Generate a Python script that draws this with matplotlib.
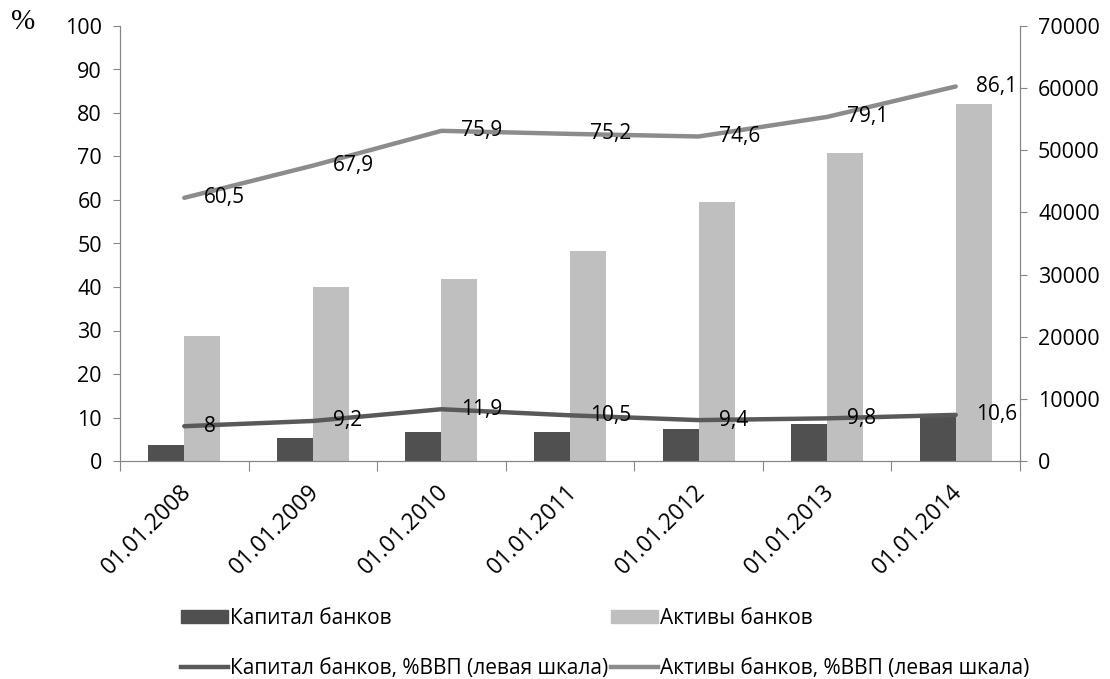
import numpy as np
import matplotlib.pyplot as plt
from matplotlib.lines import Line2D
from matplotlib.patches import Patch

# data
dates = ['01.01.2008', '01.01.2009', '01.01.2010', '01.01.2011',
         '01.01.2012', '01.01.2013', '01.01.2014']
capital = [2600, 3700, 4650, 4650, 5200, 6000, 7100]          # right scale
assets = [20100, 28000, 29300, 33800, 41700, 49600, 57400]    # right scale
capital_gdp = [8, 9.2, 11.9, 10.5, 9.4, 9.8, 10.6]            # left scale, %
assets_gdp = [60.5, 67.9, 75.9, 75.2, 74.6, 79.1, 86.1]        # left scale, %

cap_labels = ['8', '9,2', '11,9', '10,5', '9,4', '9,8', '10,6']
ast_labels = ['60,5', '67,9', '75,9', '75,2', '74,6', '79,1', '86,1']

FONT = ['Open Sans', 'DejaVu Sans']
plt.rcParams['font.family'] = FONT
spine_col = '#868686'
dark_bar = '#505050'
light_bar = '#bfbfbf'
dark_line = '#595959'
light_line = '#8c8c8c'

fig = plt.figure(figsize=(11.1, 6.79), dpi=100)
ax = fig.add_axes([120 / 1110, 1 - 461 / 679, 900 / 1110, 435 / 679])
ax2 = ax.twinx()
ax.set_zorder(ax2.get_zorder() + 1)
ax.patch.set_visible(False)

x = np.arange(len(dates))
w = 0.28
ax2.bar(x - w / 2, capital, w, color=dark_bar, label='Капитал банков')
ax2.bar(x + w / 2, assets, w, color=light_bar, label='Активы банков')
ax2.set_ylim(0, 70000)
ax2.set_yticks(np.arange(0, 70001, 10000))

ax.plot(x, capital_gdp, color=dark_line, lw=3.2, solid_capstyle='round')
ax.plot(x, assets_gdp, color=light_line, lw=3.2, solid_capstyle='round')
ax.set_ylim(0, 100)
ax.set_yticks(np.arange(0, 101, 10))
ax.set_xlim(-0.5, len(dates) - 0.5)

for xi, v, t in zip(x, capital_gdp, cap_labels):
    ax.annotate(t, (xi, v), xytext=(20, 0), textcoords='offset pixels',
                ha='left', va='center', fontsize=15, color='black')
for xi, v, t in zip(x, assets_gdp, ast_labels):
    ax.annotate(t, (xi, v), xytext=(20, 0), textcoords='offset pixels',
                ha='left', va='center', fontsize=15, color='black')

# axes styling
for a in (ax, ax2):
    for s in a.spines.values():
        s.set_color(spine_col)
    a.spines['top'].set_visible(False)
ax.tick_params(axis='y', colors=spine_col, labelcolor='black', labelsize=15.5,
               length=5, direction='out', pad=8)
ax2.tick_params(axis='y', colors=spine_col, labelcolor='black', labelsize=15.5,
                length=5, direction='out', pad=8)

# category boundaries as ticks, labels drawn rotated
ax.set_xticks(np.arange(-0.5, len(dates)))
ax.set_xticklabels([])
ax.tick_params(axis='x', colors=spine_col, length=7, direction='out')
for xi, d in zip(x, dates):
    ax.annotate(d, (xi, 0), xycoords=('data', 'axes fraction'),
                xytext=(-5, -19), textcoords='offset pixels',
                rotation=45, rotation_mode='anchor', ha='right', va='top',
                fontsize=16.5, color='black')

fig.text(11 / 1110, 1 - 22 / 679, '%', family='Liberation Serif',
         fontsize=21, ha='left', va='center')

handles = [Patch(color=dark_bar),
           Line2D([], [], color=dark_line, lw=3.2),
           Patch(color=light_bar),
           Line2D([], [], color=light_line, lw=3.2)]
labels = ['Капитал банков', 'Капитал банков, %ВВП (левая шкала)',
          'Активы банков', 'Активы банков, %ВВП (левая шкала)']
fig.legend(handles, labels, ncol=2, loc='upper left',
           bbox_to_anchor=(181 / 1110, 1 - 608 / 679), frameon=False,
           fontsize=15, handlelength=2.25, handleheight=0.6,
           handletextpad=0.12, columnspacing=0.1, labelspacing=1.38,
           borderaxespad=0, borderpad=0)

fig.savefig('out.png', dpi=100)
